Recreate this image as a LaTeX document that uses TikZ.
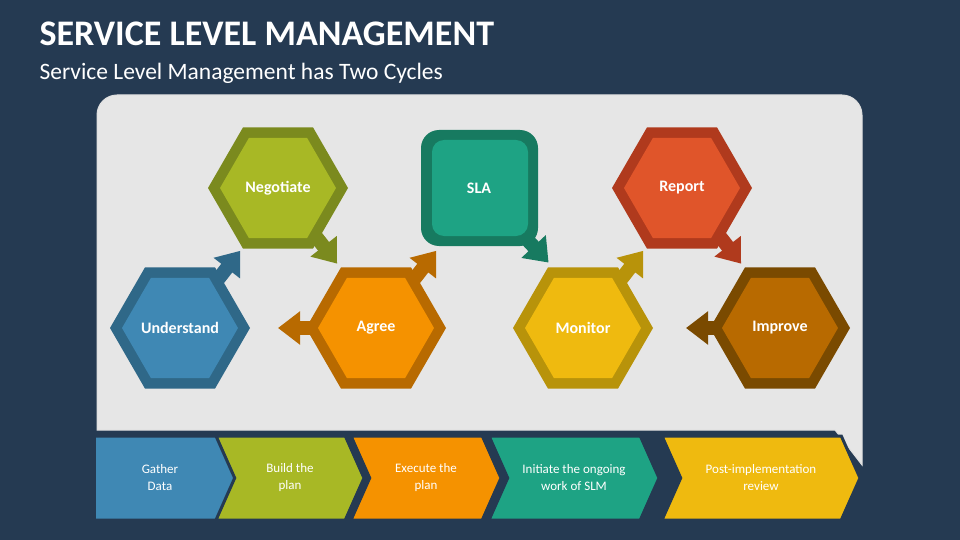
\documentclass[tikz,border=0pt]{standalone}
\usepackage{fontspec}
\setmainfont{Carlito}
\usetikzlibrary{arrows.meta,shapes.symbols}

\definecolor{bg}{HTML}{253A52}
\definecolor{panel}{HTML}{E6E6E6}
\definecolor{undD}{HTML}{2F6888}\definecolor{undL}{HTML}{3F88B4}
\definecolor{negD}{HTML}{7B8A1E}\definecolor{negL}{HTML}{A8B825}
\definecolor{agrD}{HTML}{B86A00}\definecolor{agrL}{HTML}{F59200}
\definecolor{slaD}{HTML}{177A60}\definecolor{slaL}{HTML}{1EA384}
\definecolor{monD}{HTML}{B8930A}\definecolor{monL}{HTML}{EFBA0F}
\definecolor{repD}{HTML}{B03A1D}\definecolor{repL}{HTML}{E0552A}
\definecolor{impD}{HTML}{7A4A00}\definecolor{impL}{HTML}{B86A00}

\tikzset{
  lbl/.style={text=white, font=\bfseries\fontsize{16}{18}\selectfont},
  arr/.style={line width=14pt, -{Triangle[width=32pt,length=22pt]}},
  chev/.style={signal, signal to=east, signal from=west, signal pointer angle=132,
    minimum height=84pt, draw=bg, line width=3pt, text=white, align=center,
    inner sep=0pt, font=\fontsize{13}{17}\selectfont}
}

% hexagon cell: name, dark, light
\newcommand{\hexcell}[3]{%
  \fill[#2] (#1) ++(0:70) -- ++(120:70) -- ++(180:70) -- ++(240:70) -- ++(300:70) -- ++(0:70) -- cycle;
  \fill[#3] (#1) ++(0:58) -- ++(120:58) -- ++(180:58) -- ++(240:58) -- ++(300:58) -- ++(0:58) -- cycle;
}

\begin{document}
\begin{tikzpicture}[x=1pt,y=-1pt]
\fill[bg] (0,0) rectangle (960,540);
\useasboundingbox (0,0) rectangle (960,540);

\node[anchor=west, text=white, font=\bfseries\fontsize{36}{40}\selectfont] (title) at (36,34) {SERVICE LEVEL MANAGEMENT};
\node[anchor=west, text=white, font=\fontsize{23.5}{26}\selectfont] (sub) at (36,73) {Service Level Management has Two Cycles};

% panel
\fill[panel, draw=white!75!gray, line width=1pt] (97,430) -- (97,115) arc[start angle=180, end angle=270, radius=20]
  -- (842,95) arc[start angle=270, end angle=360, radius=20] -- (862,465) -- (835,430) -- cycle;

% cells
\coordinate (und) at (180,328);
\coordinate (neg) at (278,188);
\coordinate (agr) at (376,328);
\coordinate (sla) at (479,188);
\coordinate (mon) at (583,328);
\coordinate (rep) at (682,188);
\coordinate (imp) at (780,328);

\hexcell{und}{undD}{undL}
\hexcell{neg}{negD}{negL}
\hexcell{agr}{agrD}{agrL}
\fill[slaD, rounded corners=18pt] (421,130) rectangle (538,246);
\fill[slaL, rounded corners=12pt] (432,140) rectangle (528,236);
\hexcell{mon}{monD}{monL}
\hexcell{rep}{repD}{repL}
\hexcell{imp}{impD}{impL}

% arrows
\draw[arr, undD] (und) ++(-52:62) -- ++(-52:36);
\draw[arr, negD] (neg) ++(52:62) -- ++(52:34);
\draw[arr, agrD] (agr) ++(180:64) -- ++(180:34);
\draw[arr, agrD] (agr) ++(-52:62) -- ++(-52:36);
\draw[arr, slaD] (sla) ++(47:72) -- ++(47:30);
\draw[arr, monD] (mon) ++(-52:62) -- ++(-52:36);
\draw[arr, repD] (rep) ++(52:62) -- ++(52:34);
\draw[arr, impD] (imp) ++(180:64) -- ++(180:30);

\node[lbl] (undT) at (und) {Understand};
\node[lbl] (negT) at (neg) {Negotiate};
\node[lbl] (agrT) at (agr) {Agree};
\node[lbl] (slaT) at (sla) {SLA};
\node[lbl] (monT) at (mon) {Monitor};
\node[lbl] (repT) at (rep) {Report};
\node[lbl] (impT) at (imp) {Improve};

% bottom steps
\node[chev, fill=undL, signal from=nowhere, minimum width=150pt] (s1) at (160,478) {Gather\\Data};
\node[chev, fill=negL, minimum width=148pt] (s2) at (290,478) {Build the\\plan};
\node[chev, fill=agrL, minimum width=150pt] (s3) at (426,478) {Execute the\\plan};
\node[chev, fill=slaL, minimum width=170pt] (s4) at (574,478) {Initiate the ongoing\\work of SLM};
\node[chev, fill=monL, minimum width=198pt] (s5) at (761,478) {Post-implementation\\review};
\end{tikzpicture}
\end{document}
